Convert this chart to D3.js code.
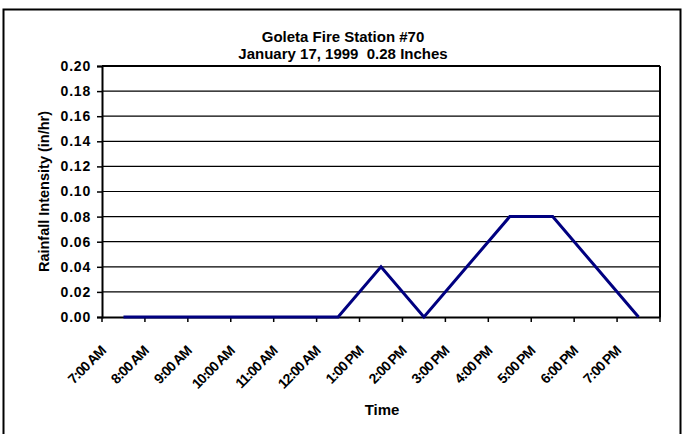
<!DOCTYPE html>
<html><head><meta charset="utf-8">
<script src="https://cdn.jsdelivr.net/npm/d3@7"></script>
<style>body{margin:0;background:#fff}svg{display:block}text{font-family:"Liberation Sans",Arial,sans-serif;font-weight:bold;fill:#000;white-space:pre}</style>
</head><body>
<script>
const categories = ["7:00 AM","8:00 AM","9:00 AM","10:00 AM","11:00 AM","12:00 AM","1:00 PM","2:00 PM","3:00 PM","4:00 PM","5:00 PM","6:00 PM","7:00 PM"];
const intensity = [0,0,0,0,0,0,0.04,0,0.04,0.08,0.08,0.04,0];
const yTicks = [0,0.02,0.04,0.06,0.08,0.10,0.12,0.14,0.16,0.18,0.20];
const titleLines = ["Goleta Fire Station #70","January 17, 1999  0.28 Inches"];
const xTitle = "Time", yTitle = "Rainfall Intensity (in/hr)";

const W=691,H=434;
const svg=d3.select("body").append("svg").attr("width",W).attr("height",H);
svg.append("rect").attr("x",3.5).attr("y",9.5).attr("width",677).attr("height",440)
  .attr("fill","#fff").attr("stroke","#000").attr("stroke-width",2);

const L=102,R=660,T=66,B=317;
const x=d3.scaleBand().domain(categories).range([L,R]).paddingInner(0).paddingOuter(0);
const y=d3.scaleLinear().domain([0,0.2]).range([B,T]);

// gridlines
svg.append("g").selectAll("line").data(yTicks.filter(d=>d>0)).join("line")
  .attr("x1",L).attr("x2",R).attr("y1",d=>y(d)).attr("y2",d=>y(d))
  .attr("stroke","#000").attr("stroke-width",1.2);
// plot border top/right
svg.append("line").attr("x1",R).attr("x2",R).attr("y1",T).attr("y2",B).attr("stroke","#000").attr("stroke-width",2);
svg.append("line").attr("x1",L).attr("x2",R).attr("y1",T).attr("y2",T).attr("stroke","#000").attr("stroke-width",2);

// y axis
const ya=svg.append("g").attr("transform",`translate(${L},0)`)
  .call(d3.axisLeft(y).tickValues(yTicks).tickFormat(d3.format(".2f")).tickSize(5).tickPadding(6));
ya.select(".domain").attr("stroke","#000").attr("stroke-width",2);
ya.selectAll(".tick line").attr("stroke","#000").attr("stroke-width",1.5);
ya.selectAll("text").attr("font-size",14).attr("letter-spacing",0.8).attr("font-family","Liberation Sans, Arial, sans-serif").attr("font-weight","bold");

// x axis
const xa=svg.append("g").attr("transform",`translate(0,${B})`)
  .call(d3.axisBottom(x).tickSize(0).tickFormat(""));
xa.select(".domain").attr("stroke","#000").attr("stroke-width",2);
const bounds=categories.map(c=>x(c)).concat([x(categories[categories.length-1])+x.bandwidth()]);
svg.append("g").selectAll("line").data(bounds).join("line")
  .attr("x1",d=>d).attr("x2",d=>d).attr("y1",B).attr("y2",B+5).attr("stroke","#000").attr("stroke-width",1.5);
svg.append("g").selectAll("text").data(categories).join("text")
  .attr("transform",d=>`translate(${x(d)+x.bandwidth()/2-17},${B+35}) rotate(-45)`)
  .attr("text-anchor","end").attr("font-size",14).attr("letter-spacing",-1).text(d=>d);

// line
svg.append("path").datum(intensity)
  .attr("d",d3.line().x((d,i)=>x(categories[i])+x.bandwidth()/2).y(d=>y(d)))
  .attr("fill","none").attr("stroke","#000080").attr("stroke-width",3).attr("stroke-linejoin","miter");

// titles
svg.append("text").attr("x",343).attr("y",42).attr("text-anchor","middle").attr("font-size",15).text(titleLines[0]);
svg.append("text").attr("x",343).attr("y",59).attr("text-anchor","middle").attr("font-size",15).text(titleLines[1]);
svg.append("text").attr("x",382).attr("y",415).attr("text-anchor","middle").attr("font-size",15).text(xTitle);
svg.append("text").attr("transform",`translate(49,${(T+B)/2}) rotate(-90)`).attr("text-anchor","middle").attr("font-size",14.5).text(yTitle);
</script>
</body></html>
